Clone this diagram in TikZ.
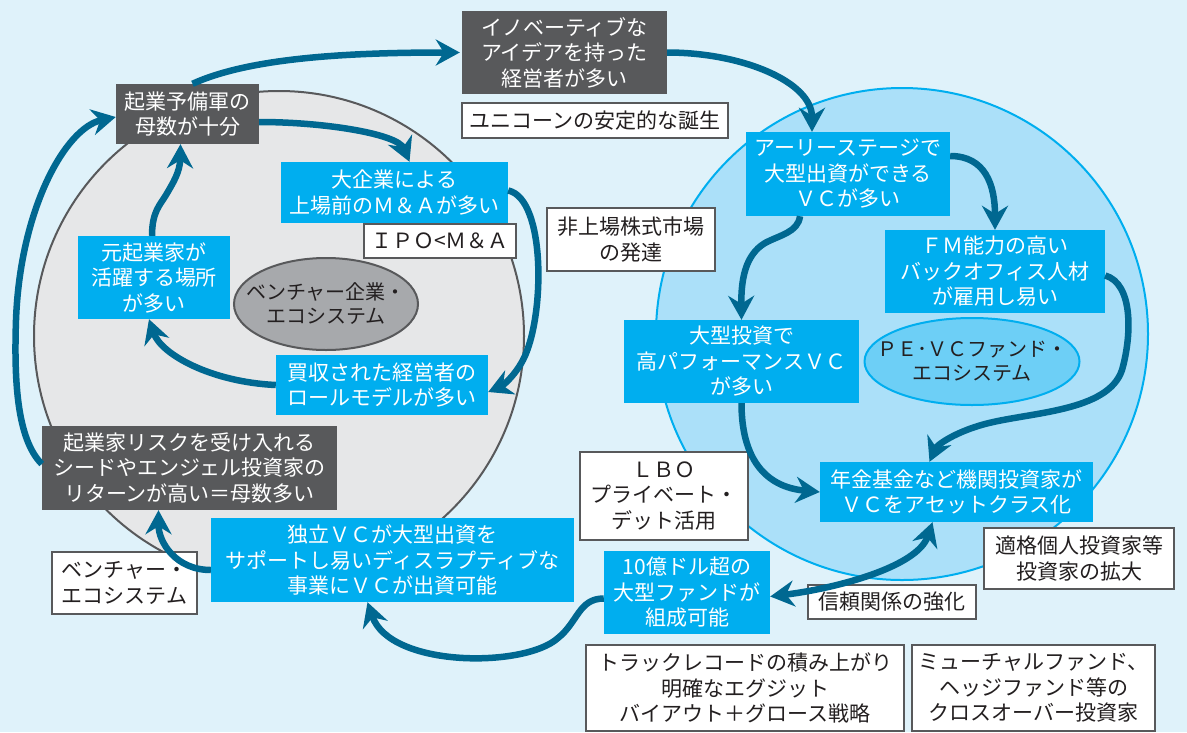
\documentclass[tikz,border=0pt]{standalone}
\usepackage{fontspec}
\setmainfont{Noto Sans CJK JP}
\usetikzlibrary{arrows.meta,shapes.geometric}
\definecolor{bgc}{RGB}{223,242,250}
\definecolor{grayfill}{RGB}{230,231,232}
\definecolor{darkg}{RGB}{88,89,91}
\definecolor{bluefill}{RGB}{171,224,249}
\definecolor{cyanc}{RGB}{0,174,239}
\definecolor{arrowc}{RGB}{0,104,145}
\definecolor{ellg}{RGB}{167,169,172}
\definecolor{ellb}{RGB}{109,207,246}
\definecolor{inkc}{RGB}{35,31,32}
\begin{document}
\begin{tikzpicture}[x=1pt,y=-1pt,
  base/.style={inner sep=0pt, align=center, font=\fontsize{21}{25.5}\selectfont},
  darkbox/.style={base, fill=darkg, text=white},
  cyanbox/.style={base, fill=cyanc, text=white},
  whitebox/.style={base, fill=white, draw=darkg, line width=2.5pt, text=inkc},
  ellgray/.style={base, ellipse, font=\fontsize{20}{24}\selectfont, fill=ellg, draw=darkg, line width=2pt, text=inkc},
  ellblue/.style={base, ellipse, font=\fontsize{20}{24}\selectfont, fill=ellb, draw=cyanc, line width=2pt, text=inkc},
  flow/.style={draw=arrowc, line width=6.5pt, -{Stealth[length=24pt,width=26pt,inset=8pt]}},
  flowboth/.style={draw=arrowc, line width=6.5pt, {Stealth[length=24pt,width=26pt,inset=8pt]}-{Stealth[length=24pt,width=26pt,inset=8pt]}}
]
\useasboundingbox (0,0) rectangle (1187,732);
\fill[bgc] (0,0) rectangle (1187,732);
% ecosystem circles
\draw[fill=grayfill, draw=darkg, line width=2pt] (279,336) circle[radius=245pt];
\draw[fill=bluefill, draw=cyanc, line width=2pt] (902,334) circle[radius=246pt];

% nodes
\node[darkbox, minimum width=205pt, minimum height=83pt] (inov) at (564.5,52.5) {イノベーティブな\\アイデアを持った\\経営者が多い};
\node[whitebox, minimum width=266pt, minimum height=35pt] (unicorn) at (595,120.5) {ユニコーンの安定的な誕生};
\node[darkbox, minimum width=143pt, minimum height=60pt] (yobi) at (187.5,114) {起業予備軍の\\母数が十分};
\node[cyanbox, minimum width=227pt, minimum height=61pt] (bigco) at (394.5,192.5) {大企業による\\上場前のＭ＆Ａが多い};
\node[whitebox, minimum width=152pt, minimum height=34pt] (ipo) at (440,241) {ＩＰＯ<Ｍ＆Ａ};
\node[cyanbox, minimum width=152pt, minimum height=83pt] (genkig) at (154,277.5) {元起業家が\\活躍する場所\\が多い};
\node[ellgray, inner xsep=-16pt, inner ysep=0pt, minimum width=184pt, minimum height=92pt] (eco1) at (326,304) {ベンチャー企業・\\エコシステム};
\node[whitebox, minimum width=168pt, minimum height=63pt] (hijo) at (631,239.5) {非上場株式市場\\の発達};
\node[cyanbox, minimum width=204pt, minimum height=84pt] (early) at (848,174) {アーリーステージで\\大型出資ができる\\ＶＣが多い};
\node[cyanbox, minimum width=220pt, minimum height=83pt] (fm) at (995,271.5) {ＦＭ能力の高い\\バックオフィス人材\\が雇用し易い};
\node[cyanbox, minimum width=235pt, minimum height=83pt] (bigvc) at (741.5,361.5) {大型投資で\\高パフォーマンスＶＣ\\が多い};
\node[ellblue, inner xsep=-19pt, inner ysep=0pt, minimum width=215pt, minimum height=87pt] (eco2) at (972,361.5) {ＰＥ･ＶＣファンド・\\エコシステム};
\node[darkbox, minimum width=295pt, minimum height=84pt] (risk) at (189.5,468) {起業家リスクを受け入れる\\シードやエンジェル投資家の\\リターンが高い＝母数多い};
\node[cyanbox, minimum width=212pt, minimum height=60pt] (rolem) at (382,385) {買収された経営者の\\ロールモデルが多い};
\node[cyanbox, minimum width=363pt, minimum height=84pt] (indep) at (392.5,560) {独立ＶＣが大型出資を\\サポートし易いディスラプティブな\\事業にＶＣが出資可能};
\node[whitebox, minimum width=145pt, minimum height=62pt] (vent) at (124.5,583) {ベンチャー・\\エコシステム};
\node[whitebox, minimum width=168pt, minimum height=88pt] (lbo) at (664,496) {ＬＢＯ\\プライベート・\\デット活用};
\node[cyanbox, minimum width=273pt, minimum height=60pt] (pension) at (956.5,492) {年金基金など機関投資家が\\ＶＣをアセットクラス化};
\node[whitebox, minimum width=190pt, minimum height=61pt] (tekikaku) at (1079,558.5) {適格個人投資家等\\投資家の拡大};
\node[cyanbox, minimum width=166pt, minimum height=83pt] (fund10) at (687,592.5) {10億ドル超の\\大型ファンドが\\組成可能};
\node[whitebox, minimum width=168pt, minimum height=34pt] (trust) at (892,602) {信頼関係の強化};
\node[whitebox, minimum width=318pt, minimum height=86pt] (track) at (745,688) {トラックレコードの積み上がり\\明確なエグジット\\バイアウト＋グロース戦略};
\node[whitebox, minimum width=243pt, minimum height=86pt] (mutual) at (1033.5,688) {ミューチャルファンド、\\ヘッジファンド等の\\クロスオーバー投資家};

% connectors
\draw[flow] ([xshift=5pt]yobi.north) .. controls +(55,-25) and +(-120,0) .. ([xshift=-2pt]inov.west);
\draw[flow] (inov.east) .. controls +(75,0) and +(0,-50) .. ([xshift=-36pt]early.north);
\draw[flow] ([yshift=18pt]early.east) .. controls +(35,0) and +(0,-45) .. (fm.north);
\draw[flow] ([xshift=-48pt]early.south) .. controls +(-2,16) and (780,235) .. (765,243) .. controls (745,255) and (741,280) .. (bigvc.north);
\draw[flow] (bigvc.south) .. controls +(0,55) and +(-55,-5) .. (pension.west);
\draw[flow] ([yshift=-4pt]fm.east) .. controls +(28,8) and (1132,335) .. (1122,370) .. controls (1108,412) and (1030,412) .. (985,424) .. controls (955,432) and (937,445) .. ([xshift=-27pt]pension.north);
\draw[flowboth] ([xshift=-24pt]pension.south) .. controls +(-15,45) and +(65,-8) .. ([yshift=-4pt]fund10.east);
\draw[flow] ([yshift=-6pt]fund10.west) .. controls +(-25,0) and (578,622) .. (558,638) .. controls (525,668) and (390,668) .. ([xshift=-25pt]indep.south);
\draw[flow] ([yshift=-10pt]indep.west) .. controls +(-35,0) and +(0,32) .. ([xshift=-31pt]risk.south);
\draw[flow] ([yshift=4pt]risk.west) .. controls +(-25,-25) and (14,380) .. (16,320) .. controls (20,210) and (65,128) .. ([yshift=-3pt]yobi.west);
\draw[flow] ([yshift=-8pt]yobi.east) .. controls +(65,0) and +(-12,-28) .. ([xshift=15pt]bigco.north);
\draw[flow] ([yshift=2pt]bigco.east) .. controls +(38,8) and (545,318) .. (523,360) .. controls (514,377) and (502,386) .. ([yshift=-7pt]rolem.east);
\draw[flow] (rolem.west) .. controls +(-65,-3) and +(12,35) .. ([xshift=-5pt]genkig.south);
\draw[flow] ([xshift=-2pt]genkig.north) .. controls +(0,-24) and (160,205) .. (166,195) .. controls (173,183) and (180,172) .. ([xshift=-7pt]yobi.south);
\end{tikzpicture}
\end{document}
